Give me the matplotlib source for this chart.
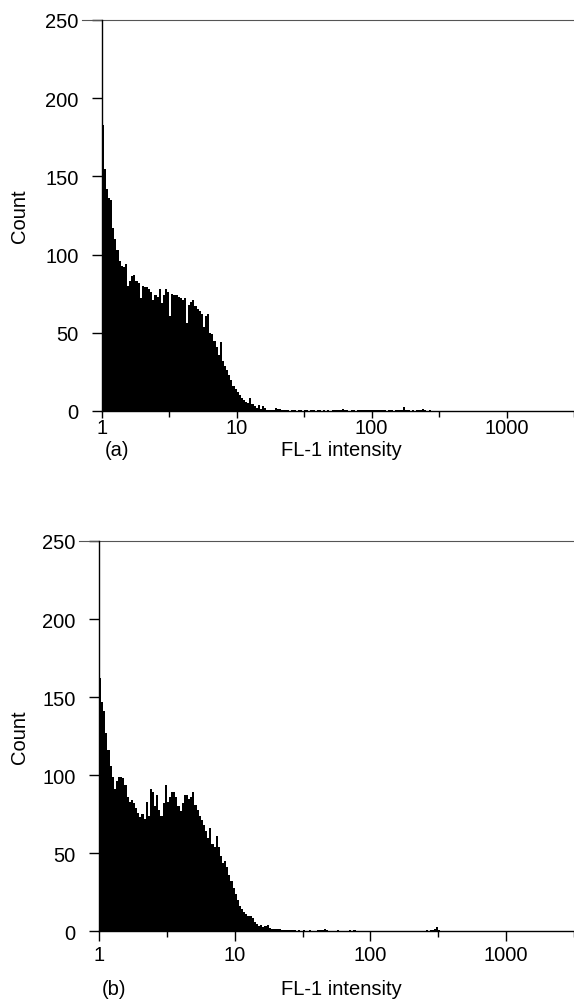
import numpy as np
import matplotlib
matplotlib.use("Agg")
from matplotlib import pyplot as plt
from matplotlib.ticker import NullFormatter

# FL-1 histogram, 64 channels per decade starting at intensity 1
# (a) main peak, channels 0..86
counts_a = [183, 155, 142, 136, 135, 117, 110, 103, 96, 93,
            92, 94, 80, 83, 86, 87, 83, 82, 72, 80,
            79, 79, 78, 76, 71, 74, 73, 78, 69, 74,
            78, 76, 61, 75, 74, 74, 73, 72, 71, 72,
            56, 68, 70, 71, 67, 65, 64, 62, 54, 61,
            62, 50, 49, 45, 41, 36, 44, 32, 29, 26,
            23, 20, 16, 14, 12, 10, 8, 7, 6, 5,
            8.5, 4.5, 3, 1.7, 4, 1.3, 3.4, 2, 0.8, 0.5,
            0.6, 0.6, 2, 1.5, 1, 0.8, 0.5]
# (a) tail, channels 87..155
tail_a = [0.4, 0.5, 0.3, 0.4, 0.4, 0.3, 0.5, 0.4, 0.3, 0.4,
          0.4, 0.3, 0.4, 0.5, 0.3, 0.4, 0.4, 0.3, 0.4, 0.3,
          0.4, 0.3, 0.4, 0.4, 0.5, 0.4, 0.6, 1.0, 0.5, 0.4,
          0.3, 0.4, 0.4, 0.3, 0.5, 0.4, 0.8, 0.4, 0.5, 0.9,
          0.4, 0.5, 0.4, 0.4, 0.8, 0.4, 0.7, 0.4, 0.3, 0.4,
          0.4, 0.3, 0.5, 0.4, 0.6, 0.9, 2.6, 0.8, 0.4, 0.3,
          0.4, 0.3, 0.4, 0.5, 0.4, 1.2, 0.4, 0.3, 0.4]

# (b) main peak, channels 0..84
counts_b = [162, 147, 141, 127, 116, 106, 99, 91, 96, 99,
            99, 98, 94, 86, 83, 84, 82, 79, 76, 73,
            75, 72, 83, 74, 91, 89, 80, 87, 78, 74,
            82, 94, 83, 86, 89, 89, 86, 80, 77, 82,
            87, 87, 85, 86, 89, 81, 78, 74, 71, 68,
            64, 60, 66, 56, 54, 61, 54, 48, 44, 45,
            41, 36, 32, 28, 24, 20, 16, 14, 12.5, 11,
            10, 9.5, 8.5, 6, 4.5, 3.4, 4, 2.6, 3.6, 4,
            2, 1.5, 1.5, 1.5, 1.5]
# (b) tail, channels 85..223
tail_b = [1.2, 1.0, 0.8, 0.9, 1.0, 0.7, 0.6, 0.8, 0.5, 0.6,
          0.5, 0.6, 0.5, 0.4, 0.6, 0.5, 0.4, 0.5, 0.6, 0.7,
          1.0, 1.6, 0.8, 0.5, 0.4, 0.5, 0.4, 0.6, 0.5, 0.4,
          0.5, 0.4, 0.5, 0.6, 0.5, 0.8, 0.5, 0.4, 0.5, 0.4,
          0.5, 0.4, 0.4, 0.5, 0.4, 0.5, 0.4, 0.4, 0.5, 0.4,
          0.4, 0.5, 0.4, 0.4, 0.5, 0.4, 0.4, 0.5, 0.4, 0.4,
          0.5, 0.4, 0.4, 0.5, 0.4, 0.4, 0.5, 0.4, 0.5, 0.6,
          0.5, 0.6, 0.8, 1.4, 2.6, 0.9, 0.5, 0.4, 0.5, 0.4,
          0.4, 0.5, 0.4, 0.4, 0.4, 0.5, 0.4, 0.4, 0.4, 0.5,
          0.4, 0.4, 0.4, 0.4, 0.5, 0.4, 0.4, 0.4, 0.4, 0.4,
          0.4, 0.5, 0.4, 0.4, 0.4, 0.4, 0.4, 0.4, 0.5, 0.4,
          0.4, 0.4, 0.3, 0.4, 0.4, 0.3, 0.4, 0.3, 0.4, 0.3,
          0.3, 0.4, 0.3, 0.3, 0.4, 0.3, 0.3, 0.3, 0.4, 0.3,
          0.3, 0.3, 0.3, 0.3, 0.3, 0.3, 0.3, 0.3, 0.3]

channels_per_decade = 64
xticks = [1, 10, 100, 1000]
xtick_labels = ["1", "10", "100", "1000"]
half_ticks = [10 ** 0.5, 10 ** 1.5, 10 ** 2.5, 10 ** 3.5]
yticks = [0, 50, 100, 150, 200, 250]
panel_labels = ["(a)", "(b)"]

plt.rcParams['font.family'] = ['Liberation Sans', 'DejaVu Sans']
plt.rcParams['font.size'] = 14.5

W, H = 574, 1003
fig = plt.figure(figsize=(W / 100, H / 100), dpi=100)

# pixel layout: left x, axis y of 0, axis y of 250,
# major tick length (pt), tick label pad (pt), x label drop (px)
layout = [(101.7, 412, 21, 5, 0.3, 39), (99, 932.3, 542, 7, 3.0, 57)]
decade_px = 142
xlabel_centre = 341

panels = [(counts_a + tail_a), (counts_b + tail_b)]

for i, (vals, (x0, yb, yt, tlen, xpad, xdrop)) in enumerate(zip(panels, layout)):
    w = W - x0
    h = yb - yt
    ax = fig.add_axes([x0 / W, (H - yb) / H, w / W, h / H])
    edges = 10 ** (np.arange(len(vals) + 1) / channels_per_decade)
    ax.stairs(vals, edges, fill=True, color='black', lw=0)

    ax.set_xscale('log')
    ax.set_xlim(1, 10 ** (w / decade_px))
    ax.set_ylim(0, 250)
    ax.set_xticks(xticks)
    ax.set_xticklabels(xtick_labels)
    ax.set_xticks(half_ticks, minor=True)
    ax.xaxis.set_minor_formatter(NullFormatter())
    ax.set_yticks(yticks)

    ax.tick_params(axis='x', which='major', length=tlen, width=1, pad=xpad)
    ax.tick_params(axis='x', which='minor', length=4, width=1)
    ax.tick_params(axis='y', length=7.2, width=1, pad=9.5)

    for s in ['top', 'right']:
        ax.spines[s].set_visible(False)
    for s in ['left', 'bottom']:
        ax.spines[s].set_linewidth(1)
    # thin rule along the top of the plot
    ax.plot([-20 / w, 1], [1, 1], transform=ax.transAxes, clip_on=False,
            color='#555555', lw=0.8)

    ax.set_ylabel('Count')
    ax.yaxis.set_label_coords(-(x0 - 20) / w, 0.5)
    ax.yaxis.label.set_va('center')

    ax.set_xlabel('FL-1 intensity')
    ax.xaxis.set_label_coords((xlabel_centre - x0) / w, -xdrop / h)
    ax.xaxis.label.set_va('center')
    ax.text(3 / w, -xdrop / h, panel_labels[i], transform=ax.transAxes,
            ha='left', va='center')

fig.savefig('out.png', dpi=100)
